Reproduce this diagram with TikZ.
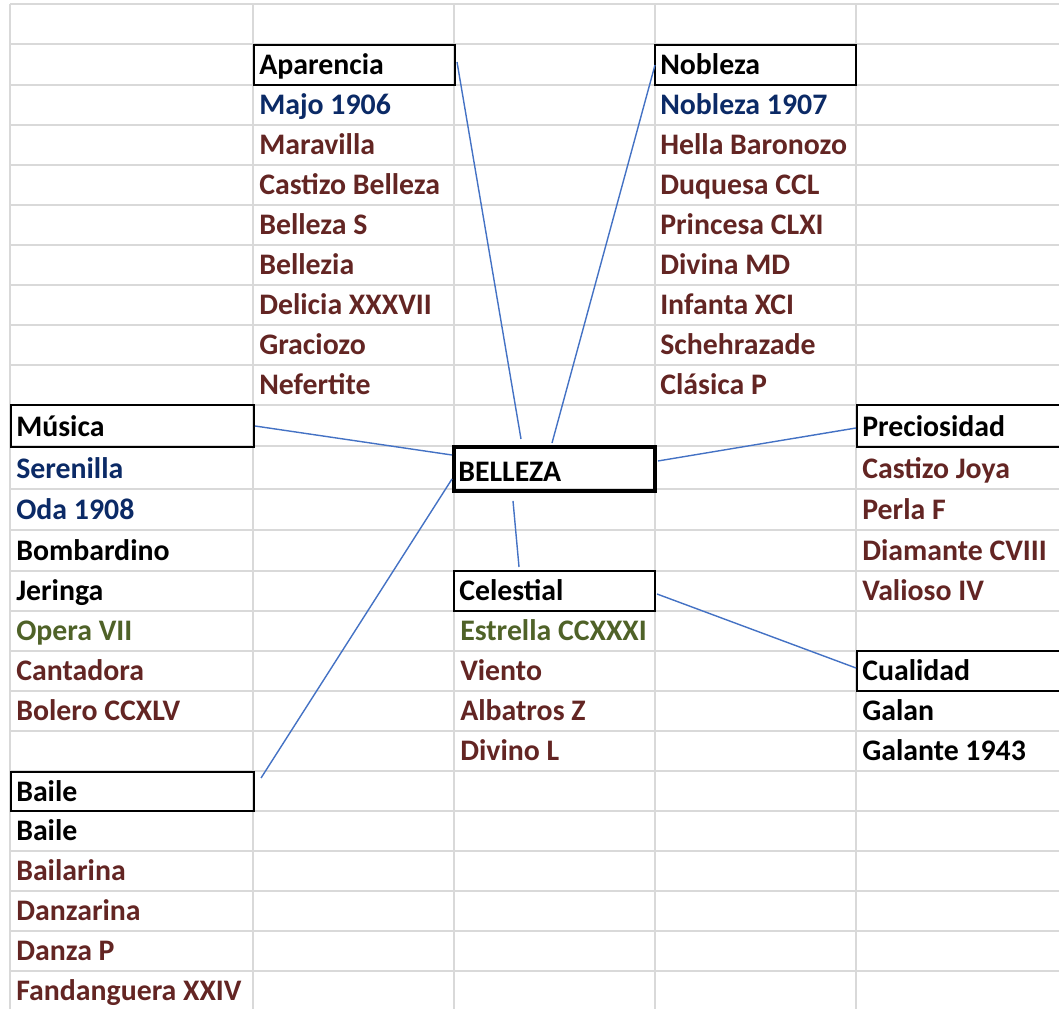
\documentclass[tikz,border=0pt]{standalone}
\usepackage{fontspec}
\setmainfont{Carlito}
\usetikzlibrary{calc,positioning}
\definecolor{gridgray}{HTML}{D9D9D9}
\definecolor{linkblue}{HTML}{4472C4}
\definecolor{dkblue}{HTML}{0B2A66}
\definecolor{dkred}{HTML}{632523}
\definecolor{dkgreen}{HTML}{4F6228}
\newcommand{\cellfont}{\bfseries\fontsize{21.2}{25}\selectfont}
\tikzset{
  cell/.style={anchor=base west,inner sep=0pt,font=\cellfont},
  hdrbox/.style={draw=black,line width=1.4pt,anchor=north west,inner sep=0pt,
    minimum width=#1,minimum height=1cm},
  link/.style={draw=linkblue,line width=1pt}
}
\begin{document}
\begin{tikzpicture}[x=0.025cm,y=-0.025cm]
  \useasboundingbox (0,0) rectangle (1059,1008);
  % sheet grid
  \foreach \gy in {4,44,85,125,165,205,245,285,325,365,405,446,489,530,571,611,651,691,731,771,811,851,891,931,971}
    \draw[gridgray,line width=1.3pt](10,\gy)--(1070,\gy);
  \foreach \gx in {10,253,454,655,856}
    \draw[gridgray,line width=1.3pt](\gx,4)--(\gx,1020);

  % group boxes
  \node[hdrbox=5.025cm] (apar) at (253,44) {};
  \node[hdrbox=5.025cm] (nob) at (654,44) {};
  \node[hdrbox=6.075cm,minimum height=1.05cm] (mus) at (10,404) {};
  \node[hdrbox=5.025cm,line width=2.8pt,minimum height=1.1cm] (bel) at (452,445) {};
  \node[hdrbox=5.3cm,minimum height=1.05cm] (prec) at (856,404) {};
  \node[hdrbox=5.025cm] (cel) at (453,570) {};
  \node[hdrbox=5.3cm] (cual) at (856,650) {};
  \node[hdrbox=6.075cm,minimum height=0.98cm] (bai) at (10,771) {};
  \foreach \b/\tx in {apar/Aparencia,nob/Nobleza,mus/Música,bel/BELLEZA,
      prec/Preciosidad,cel/Celestial,cual/Cualidad,bai/Baile}
    \node[cell] (\b-t) at ($(\b.south west)+(6,-11)$) {\tx};

  % entries
  \foreach \yb/\tc/\tx [count=\i] in {125/dkblue/Majo 1906,165/dkred/Maravilla,
      205/dkred/Castizo Belleza,245/dkred/Belleza S,285/dkred/Bellezia,
      325/dkred/Delicia XXXVII,365/dkred/Graciozo,405/dkred/Nefertite}
    \node[cell,text=\tc] (apar\i) at (259,\yb-11) {\tx};
  \foreach \yb/\tc/\tx [count=\i] in {125/dkblue/Nobleza 1907,165/dkred/Hella Baronozo,
      205/dkred/Duquesa CCL,245/dkred/Princesa CLXI,285/dkred/Divina MD,
      325/dkred/Infanta XCI,365/dkred/Schehrazade,405/dkred/Clásica P}
    \node[cell,text=\tc] (nob\i) at (660,\yb-11) {\tx};
  \foreach \yb/\tc/\tx [count=\i] in {489/dkblue/Serenilla,530/dkblue/Oda 1908,
      571/black/Bombardino,611/black/Jeringa,651/dkgreen/Opera VII,
      691/dkred/Cantadora,731/dkred/Bolero CCXLV}
    \node[cell,text=\tc] (mus\i) at (16,\yb-11) {\tx};
  \foreach \yb/\tc/\tx [count=\i] in {851/black/Baile,891/dkred/Bailarina,
      931/dkred/Danzarina,971/dkred/Danza P,1011/dkred/Fandanguera XXIV}
    \node[cell,text=\tc] (bai\i) at (16,\yb-11) {\tx};
  \foreach \yb/\tc/\tx [count=\i] in {651/dkgreen/Estrella CCXXXI,691/dkred/Viento,
      731/dkred/Albatros Z,771/dkred/Divino L}
    \node[cell,text=\tc] (cel\i) at (460,\yb-11) {\tx};
  \foreach \yb/\tc/\tx [count=\i] in {489/dkred/Castizo Joya,530/dkred/Perla F,
      571/dkred/Diamante CVIII,611/dkred/Valioso IV}
    \node[cell,text=\tc] (prec\i) at (862,\yb-11) {\tx};
  \foreach \yb/\tc/\tx [count=\i] in {731/black/Galan,771/black/Galante 1943}
    \node[cell,text=\tc] (cual\i) at (862,\yb-11) {\tx};

  % links to the centre
  \draw[link]($(apar.north east)+(1,18)$)--($(bel.north west)+(69,-6)$);
  \draw[link]($(nob.north west)+(1,21)$)--($(bel.north west)+(100,-2)$);
  \draw[link](mus.east)--($(bel.north west)+(0,10)$);
  \draw[link]($(bel.east)+(1,-8)$)--($(prec.west)+(0,2)$);
  \draw[link]($(bai.north east)+(6,7)$)--($(bel.west)+(0,10)$);
  \draw[link]($(bel.south west)+(61,8)$)--($(cel.north west)+(66,-3)$);
  \draw[link]($(cel.east)+(1,3)$)--($(cual.west)+(0,-3)$);
\end{tikzpicture}
\end{document}
